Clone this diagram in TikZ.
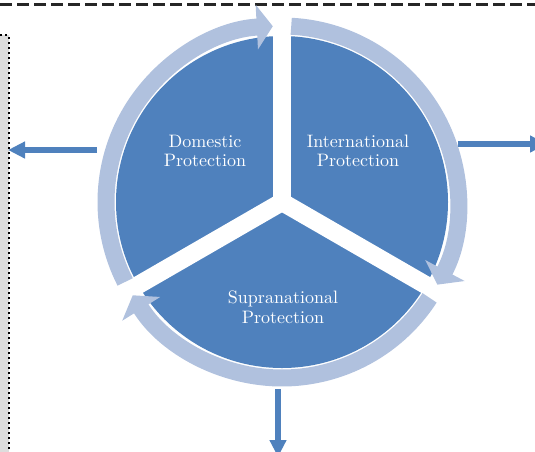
\documentclass[tikz,border=0pt]{standalone}
\usepackage{fontspec}
\usetikzlibrary{arrows.meta}
\newfontfamily\labelfont{lmroman10-regular}[Extension=.otf]
\definecolor{pieblue}{RGB}{79,129,189}
\definecolor{ringblue}{RGB}{176,193,222}
\definecolor{boxgray}{RGB}{221,221,221}

\begin{document}
\begin{tikzpicture}[x=1pt, y=1pt,
	sector/.style={text=white, align=center, font=\labelfont\fontsize{18}{19.5}\selectfont},
	ringarrow/.style={ringblue, line width=17pt, -{Triangle[length=16pt, width=44pt]}},
	outarrow/.style={pieblue, line width=6pt, -{Triangle[length=17pt, width=16pt]}}]

	% Fixing the frame
	\useasboundingbox (0,0) rectangle (535,-451);
	\clip (0,0) rectangle (535,-451);

	% Drawing the page edges
	\draw [black!85, line width=3pt, dash pattern=on 12pt off 5pt] (0,-4.5)--(535,-4.5);
	\filldraw [fill=boxgray, draw=black, line width=2pt, dash pattern=on 2pt off 3pt] (-5,-35) rectangle (8.5,-460);

	% Drawing the three sectors
	\coordinate (O) at (282,-202);
	\fill [pieblue] (O) circle (166);
	\foreach \a in {90,210,330}
		\draw [white, line width=18pt] (O) -- ++(\a:172);
	\fill [white] (O) circle (9);

	% Drawing the ring of arrows
	\draw [ringarrow] (O) ++(207:176) arc [start angle=207, end angle=93, radius=176];
	\draw [ringarrow] (O) ++(87:176) arc [start angle=87, end angle=-28, radius=176];
	\draw [ringarrow] (O) ++(-33:176) arc [start angle=-33, end angle=-148, radius=176];

	% Labels
	\node [sector] (dom) at (205,-151) {Domestic\\Protection};
	\node [sector] (intl) at (358,-151) {International\\Protection};
	\node [sector] (supra) at (283,-307) {Supranational\\Protection};

	% Arrows leaving the wheel
	\coordinate (lstart) at (97,-150);
	\coordinate (lend) at (8,-150);
	\coordinate (rstart) at (458,-144);
	\coordinate (rend) at (547,-144);
	\coordinate (bstart) at (278,-389);
	\coordinate (bend) at (278,-457);
	\draw [outarrow] (lstart) -- (lend);
	\draw [outarrow] (rstart) -- (rend);
	\draw [outarrow] (bstart) -- (bend);

\end{tikzpicture}
\end{document}
